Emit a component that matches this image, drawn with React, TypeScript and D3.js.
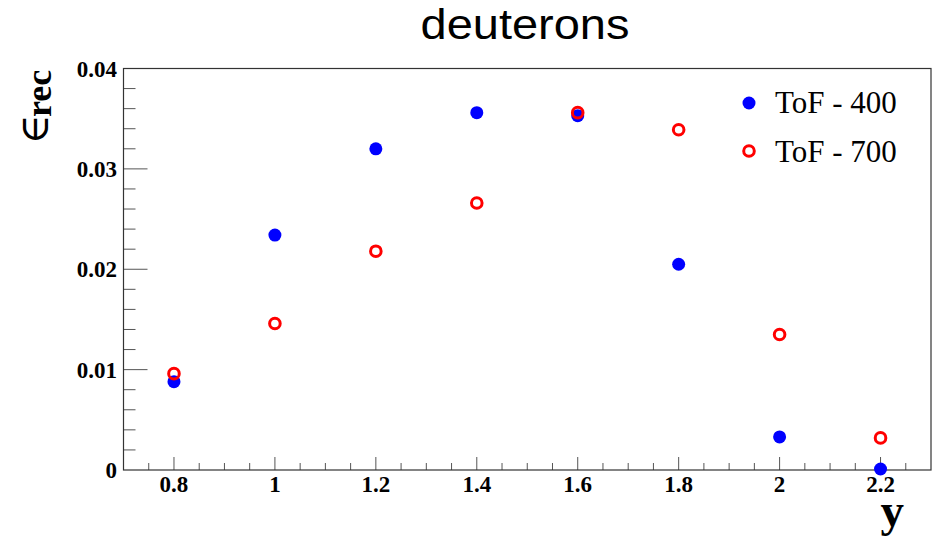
import React from "react";
import * as d3 from "d3";

const yValues = [0.8, 1.0, 1.2, 1.4, 1.6, 1.8, 2.0, 2.2];
const tof400 = [0.0088, 0.0234, 0.0320, 0.0356, 0.0353, 0.0205, 0.0033, 0.0001];
const tof700 = [0.0096, 0.0146, 0.0218, 0.0266, 0.0356, 0.0339, 0.0135, 0.0032];
const xTickLabels = ["0.8", "1", "1.2", "1.4", "1.6", "1.8", "2", "2.2"];
const yTickLabels = ["0", "0.01", "0.02", "0.03", "0.04"];
const seriesNames = ["ToF - 400", "ToF - 700"];

const W = 941, H = 537;
const L = 123.5, R = 931, T = 68.5, B = 470;

export default function App() {
  const x = d3.scaleLinear().domain([0.7, 2.3]).range([L, R]);
  const y = d3.scaleLinear().domain([0, 0.04]).range([B, T]);
  const xMinor = d3.range(0, 33).map((i) => 0.7 + i * 0.05).filter((v) => v > 0.7001 && v < 2.2999);
  const yMinor = d3.range(1, 20).map((i) => i * 0.002);
  const serif = "'Liberation Serif', 'Times New Roman', serif";
  return (
    <svg width={W} height={H} style={{ position: "absolute", left: 0, top: 0, background: "#fff" }}>
      <rect x={0} y={0} width={W} height={H} fill="#fff" />
      <text x={525} y={39} textAnchor="middle" fontFamily="'Liberation Sans', Arial, sans-serif" fontSize={43} textLength={209} lengthAdjust="spacingAndGlyphs" fill="#000">deuterons</text>
      {/* ticks */}
      {xMinor.map((v, i) => {
        const major = Math.abs(Math.round(v * 5) - v * 5) < 1e-6;
        return <line key={"xt" + i} x1={x(v)} x2={x(v)} y1={B} y2={B - (major ? 13 : 7)} stroke="#555" strokeWidth={1} />;
      })}
      {yMinor.map((v, i) => {
        const major = i % 5 === 4;
        return <line key={"yt" + i} x1={L} x2={L + (major ? 24 : 12)} y1={y(v)} y2={y(v)} stroke="#555" strokeWidth={1} />;
      })}
      <rect x={L} y={T} width={R - L} height={B - T} fill="none" stroke="#333" strokeWidth={1.2} />
      {/* tick labels */}
      {xTickLabels.map((t) => (
        <text key={"xl" + t} x={x(+t)} y={492} textAnchor="middle" fontFamily={serif} fontWeight="bold" fontSize={23} fill="#000">{t}</text>
      ))}
      {yTickLabels.map((t) => (
        <text key={"yl" + t} x={117} y={y(+t) + 8} textAnchor="end" fontFamily={serif} fontWeight="bold" fontSize={23} fill="#000">{t}</text>
      ))}
      {/* axis titles */}
      <text x={904} y={526} textAnchor="end" fontFamily={serif} fontWeight="bold" fontSize={47} fill="#000">y</text>
      <text transform="translate(48,144) rotate(-90)" fontFamily="'DejaVu Serif', serif" fontSize={40} fill="#000">∈</text>
      <text transform="translate(51,117) rotate(-90)" fontFamily={serif} fontSize={36} fontWeight="bold" fill="#000">rec</text>
      {/* data */}
      {yValues.map((v, i) => (
        <circle key={"b" + i} cx={x(v)} cy={y(tof400[i])} r={6.5} fill="#0000ff" />
      ))}
      {yValues.map((v, i) => (
        <circle key={"r" + i} cx={x(v)} cy={y(tof700[i])} r={5.3} fill="none" stroke="#ff0000" strokeWidth={3} />
      ))}
      {/* legend */}
      <circle cx={749} cy={103} r={6.5} fill="#0000ff" />
      <text x={775} y={113} fontFamily={serif} fontSize={31} fill="#000">{seriesNames[0]}</text>
      <circle cx={749} cy={151} r={5.3} fill="none" stroke="#ff0000" strokeWidth={3} />
      <text x={775} y={161.5} fontFamily={serif} fontSize={31} fill="#000">{seriesNames[1]}</text>
    </svg>
  );
}
